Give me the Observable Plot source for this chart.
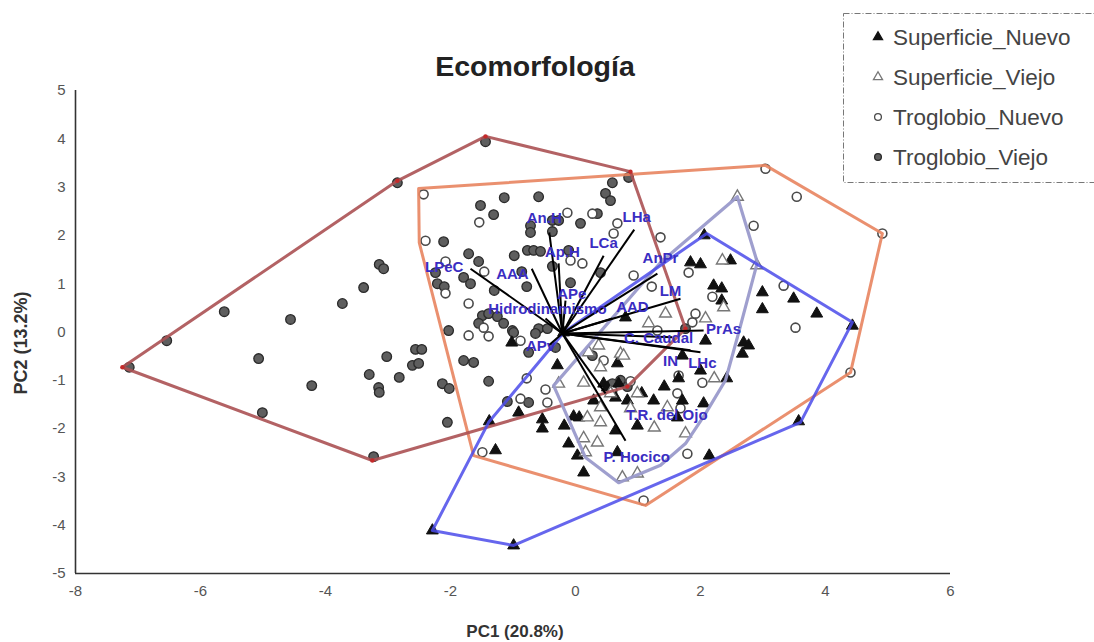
<!DOCTYPE html>
<html>
<head>
<meta charset="utf-8">
<script src="https://cdn.jsdelivr.net/npm/d3@7"></script>
<script src="https://cdn.jsdelivr.net/npm/@observablehq/plot@0.6"></script>
<style>
  html, body { margin: 0; padding: 0; background: #fff; }
  #wrap { position: relative; width: 1094px; height: 642px; overflow: hidden; }
  #wrap > svg { position: absolute; left: 0; top: 0; }
</style>
</head>
<body>
<div id="wrap"></div>
<script>
// ---------- DATA ----------
const groups = ["Superficie_Nuevo", "Superficie_Viejo", "Troglobio_Nuevo", "Troglobio_Viejo"];
const xTicks = [-8, -6, -4, -2, 0, 2, 4, 6];
const yTicks = [-5, -4, -3, -2, -1, 0, 1, 2, 3, 4, 5];

// Troglobio_Viejo (filled gray circles)
const tvX = [-2.85,-1.44,-3.14,-3.07,-3.39,-3.73,-5.62,-4.56,-6.54,-7.14,-5.07,-3.02,-2.56,-2.46,-2.61,-2.51,-3.30,-2.82,-4.22,-3.15,-3.14,-2.13,-2.02,-5.01,-2.05,-3.23,-2.11,-2.24,-2.21,-2.10,-2.03,-1.52,-1.14,-0.59,-1.31,-0.72,-0.72,-0.37,-0.27,-0.37,-1.71,-1.55,-0.98,-0.77,-0.67,-0.56,-0.37,-1.79,-1.68,-0.86,-0.78,-1.30,-1.49,-1.39,-1.25,-1.15,-1.01,-0.59,-0.45,-1.55,0.48,0.56,0.08,0.35,0.85,0.59,0.40,-0.08,-1.79,-1.63,-1.39,-0.75,-0.32,-0.75,-1.09,-0.99,-0.64,0.27,0.72,0.59,-0.11,1.76,0.83];
const tvY = [3.09,3.94,1.40,1.31,0.92,0.59,0.42,0.26,-0.18,-0.73,-0.55,-0.51,-0.36,-0.36,-0.69,-0.65,-0.88,-0.94,-1.11,-1.15,-1.25,-1.07,-1.17,-1.67,-1.87,-2.58,1.87,1.23,1.00,0.94,0.03,2.62,2.78,2.80,2.43,2.20,2.06,2.31,2.31,2.08,1.62,1.46,1.58,1.69,1.69,1.67,1.36,1.13,1.00,1.25,0.94,0.86,0.34,0.38,0.32,0.18,0.03,0.07,0.07,0.18,2.87,2.72,2.25,2.45,3.20,3.09,1.23,1.02,-0.59,-0.63,-1.02,-0.42,-0.32,-1.46,-1.44,-0.01,-0.03,-0.49,-1.00,-1.07,1.69,0.07,-1.13];

// Troglobio_Nuevo (open circles)
const tnX = [-2.43,-2.40,-2.08,-2.08,-1.54,-1.46,-1.71,-0.13,0.27,0.67,0.61,1.36,0.11,-0.08,1.81,1.22,2.19,1.87,1.92,3.04,3.54,2.85,4.91,3.33,3.52,4.40,1.65,2.03,1.63,1.79,1.68,1.09,0.45,0.88,0.59,-1.39,-0.88,-0.48,-0.88,-0.45,-1.49,-1.71,-1.47,1.31,-0.78,0.93];
const tnY = [2.85,1.89,1.46,0.80,2.27,1.25,0.59,2.47,2.45,2.25,2.04,1.96,1.42,1.48,1.23,0.94,0.73,0.20,0.38,3.38,2.80,2.20,2.04,0.96,0.09,-0.84,-0.90,-1.05,-1.27,-2.52,-1.58,-3.49,-0.59,-1.02,-1.21,-0.09,-0.18,-1.19,-1.38,-1.46,-2.49,-0.07,0.09,0.03,-0.96,1.17];

// Superficie_Nuevo (filled triangles)
const snX = [2.06,1.84,2.00,2.48,2.21,2.34,2.34,2.99,3.49,2.99,3.86,4.43,2.08,2.69,2.77,2.67,2.42,2.00,1.42,1.25,1.71,1.63,3.57,2.14,0.80,-1.02,-0.29,-1.38,-0.91,-0.53,-0.53,-1.28,-0.18,-0.11,-0.03,0.06,0.13,0.03,0.29,0.45,0.64,0.83,0.99,0.64,0.67,1.06,0.69,0.67,1.71,-2.29,-0.99,2.05,1.65,0.51,-0.19];
const snY = [2.00,1.44,1.40,1.48,0.96,0.90,0.65,0.82,0.69,0.47,0.38,0.13,-0.18,-0.22,-0.28,-0.45,-0.96,-0.80,-1.13,-1.42,-1.42,-1.77,-1.85,-2.56,0.30,-0.22,-0.69,-1.85,-1.67,-1.81,-2.00,-2.45,-1.94,-2.31,-1.75,-1.77,-2.91,-2.56,-1.42,-1.07,-1.36,-1.42,-1.94,-2.04,-2.49,-1.27,-1.07,-0.65,-0.49,-4.11,-4.42,-1.48,-0.96,-1.15,-0.01];

// Superficie_Viejo (open triangles)
const svX = [2.59,2.35,2.90,1.44,2.08,1.17,2.22,1.26,1.76,0.72,0.40,0.13,-0.27,0.99,0.56,0.40,0.88,0.19,0.40,0.13,0.16,0.75,0.99,2.37,0.21,0.37,0.77,1.47,0.35];
const svY = [2.80,1.48,1.38,0.38,0.28,0.18,-0.96,-1.98,-2.10,-0.45,-0.73,-1.05,-1.07,-1.27,-1.27,-1.56,-1.58,-1.77,-1.87,-2.20,-2.49,-3.01,-2.93,0.51,-0.42,-0.28,-0.49,-1.56,-2.29];

// Group envelopes (hull vertices, in order)
const hullTV_X = [-7.25,-2.85,-1.44,0.88,1.76,0.83,-3.25];
const hullTV_Y = [-0.73,3.13,4.05,3.32,0.07,-1.13,-2.66];
const hullTN_X = [-2.51,-2.50,-1.63,1.12,4.40,4.91,3.04];
const hullTN_Y = [2.97,1.85,-2.56,-3.59,-0.84,2.04,3.45];
const hullSN_X = [-2.29,-0.99,3.60,4.43,2.10,-0.19,-1.39];
const hullSN_Y = [-4.11,-4.42,-1.87,0.20,2.04,-0.01,-1.87];
const hullSV_X = [2.59,2.91,2.59,2.40,2.08,1.76,1.36,0.69,0.16,-0.35,1.36];
const hullSV_Y = [2.80,1.44,-0.11,-1.00,-1.69,-2.31,-2.76,-3.12,-2.60,-1.11,1.44];

// Loadings (variable vectors)
const vecOrigin = [-0.21, -0.03];
const vecNames = ["LPeC","AAA","An.H","Ap.H","APe","Hidrodinamismo","LCa","LHa","AnPr","LM","AAD","PrAs","C. Caudal","IN","LHc","APv","T.R. del Ojo","P. Hocico"];
const vecX = [-1.68,-0.70,-0.42,-0.27,-0.16,-0.48,0.45,0.94,1.31,1.68,0.59,2.05,1.55,1.84,2.00,-0.43,0.48,0.80];
const vecY = [1.31,1.31,2.06,1.42,0.65,0.28,1.58,2.12,1.21,0.69,0.28,0.03,-0.11,-0.38,-0.42,-0.28,-1.27,-2.25];
const labX = [-2.10,-1.01,-0.50,-0.21,-0.06,-0.45,0.45,0.98,1.36,1.52,0.91,2.37,1.33,1.52,2.03,-0.56,1.46,0.98];
const labY = [1.34,1.19,2.35,1.65,0.79,0.47,1.83,2.37,1.52,0.84,0.51,0.05,-0.13,-0.61,-0.65,-0.30,-1.73,-2.60];

// ---------- BUILD ----------
const rows = (xs, ys) => xs.map((x, i) => ({x, y: ys[i]}));
const closed = (xs, ys) => { const r = rows(xs, ys); r.push(r[0]); return r; };
const vecs = vecNames.map((n, i) => ({name: n, x1: vecOrigin[0], y1: vecOrigin[1], x2: vecX[i], y2: vecY[i], lx: labX[i], ly: labY[i]}));

const FONT = "'Liberation Sans', Arial, Helvetica, sans-serif";
const fmt = d => String(d);

const chart = Plot.plot({
  width: 1094, height: 642,
  marginLeft: 75, marginRight: 144, marginTop: 90, marginBottom: 69,
  x: {domain: [-8, 6]},
  y: {domain: [-5, 5]},
  style: {fontFamily: FONT, background: "white", overflow: "visible"},
  marks: [
    Plot.axisX({ticks: xTicks, tickFormat: fmt, tickSize: 0, tickPadding: 12, fontSize: 15, color: "#555", label: null}),
    Plot.axisY({ticks: yTicks, tickFormat: fmt, tickSize: 0, tickPadding: 10, fontSize: 15, color: "#555", label: null}),
    Plot.ruleX([-8], {stroke: "#333", strokeWidth: 1.6}),
    Plot.ruleY([-5], {stroke: "#333", strokeWidth: 1.6}),
    Plot.dot(rows(tvX, tvY), {x: "x", y: "y", r: 4.8, fill: "#5e5e5e", stroke: "#2a2a2a", strokeWidth: 1.3}),
    Plot.dot(rows(tnX, tnY), {x: "x", y: "y", r: 4.5, fill: "white", stroke: "#4a4a4a", strokeWidth: 1.6}),
    Plot.dot(rows(snX, snY), {x: "x", y: "y", r: 4.4, symbol: "triangle", fill: "#111", stroke: "#111", strokeWidth: 1}),
    Plot.dot(rows(svX, svY), {x: "x", y: "y", r: 4.4, symbol: "triangle", fill: "white", stroke: "#777", strokeWidth: 1.4}),
    Plot.line(closed(hullTN_X, hullTN_Y), {x: "x", y: "y", stroke: "#e8845f", strokeWidth: 3, strokeOpacity: 0.9}),
    Plot.line(closed(hullTV_X, hullTV_Y), {x: "x", y: "y", stroke: "#ab5153", strokeWidth: 3, strokeOpacity: 0.9}),
    Plot.dot(rows(hullTV_X, hullTV_Y), {x: "x", y: "y", r: 2.2, fill: "#c42a2a"}),
    Plot.line(closed(hullSV_X, hullSV_Y), {x: "x", y: "y", stroke: "#9a9acb", strokeWidth: 3.2, strokeOpacity: 0.95}),
    Plot.line(closed(hullSN_X, hullSN_Y), {x: "x", y: "y", stroke: "#4b4bea", strokeWidth: 3, strokeOpacity: 0.85}),
    Plot.link(vecs, {x1: "x1", y1: "y1", x2: "x2", y2: "y2", stroke: "#000", strokeWidth: 2}),
    Plot.text(vecs, {x: "lx", y: "ly", text: "name", fill: "#3a2dc2", fontWeight: "bold", fontSize: 15, fontFamily: FONT})
  ]
});
document.getElementById("wrap").appendChild(chart);

// ---------- TITLES & LEGEND (overlay SVG, real text) ----------
const ov = d3.select("#wrap").append("svg")
  .attr("width", 1094).attr("height", 642)
  .style("pointer-events", "none")
  .style("font-family", FONT);

ov.append("text").attr("x", 535).attr("y", 76).attr("text-anchor", "middle")
  .attr("font-size", 28.5).attr("font-weight", "bold").attr("fill", "#222").text("Ecomorfología");
ov.append("text").attr("x", 515).attr("y", 637).attr("text-anchor", "middle")
  .attr("font-size", 17).attr("font-weight", "bold").attr("fill", "#333").text("PC1 (20.8%)");
ov.append("text").attr("transform", "translate(27,343) rotate(-90)").attr("text-anchor", "middle")
  .attr("font-size", 18).attr("font-weight", "bold").attr("fill", "#333").text("PC2 (13.2%)");

ov.append("rect").attr("x", 843.5).attr("y", 13.5).attr("width", 300).attr("height", 169)
  .attr("fill", "white").attr("stroke", "#777").attr("stroke-width", 1)
  .attr("stroke-dasharray", "6,2,1,2");

const legendSym = [
  {sym: d3.symbolTriangle, fill: "#111", stroke: "#111"},
  {sym: d3.symbolTriangle, fill: "white", stroke: "#777"},
  {sym: d3.symbolCircle, fill: "white", stroke: "#4a4a4a"},
  {sym: d3.symbolCircle, fill: "#5e5e5e", stroke: "#2a2a2a"}
];
groups.forEach((g, i) => {
  const cy = 37 + i * 40;
  const s = legendSym[i];
  ov.append("path").attr("d", d3.symbol(s.sym, 36)())
    .attr("transform", `translate(878,${cy})`)
    .attr("fill", s.fill).attr("stroke", s.stroke).attr("stroke-width", 1.3);
  ov.append("text").attr("x", 893).attr("y", cy + 8).attr("font-size", 22.5)
    .attr("fill", "#444").text(g);
});
</script>
</body>
</html>
